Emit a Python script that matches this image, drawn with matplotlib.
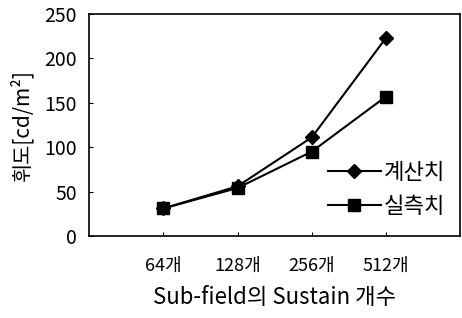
import matplotlib
matplotlib.use("Agg")
import matplotlib.pyplot as plt

plt.rcParams['font.family'] = ['Noto Sans CJK KR', 'DejaVu Sans']

categories = ["64개", "128개", "256개", "512개"]
calculated = [31, 56, 111, 223]
measured = [31, 54, 95, 157]
yticks = [0, 50, 100, 150, 200, 250]

fig = plt.figure(figsize=(4.62, 3.18), dpi=100)
ax = fig.add_axes([0.193, 0.258, 0.803, 0.698])
x = list(range(1, len(categories) + 1))
ax.plot(x, calculated, color='black', lw=1.5, marker='D', ms=7, label='계산치')
ax.plot(x, measured, color='black', lw=1.5, marker='s', ms=9, label='실측치')

ax.set_xlim(0, 5)
ax.set_ylim(0, 250)
ax.set_yticks(yticks)
ax.set_xticks(x)
ax.set_xticklabels(categories)
ax.tick_params(axis='both', direction='in', length=3, width=0.8)
ax.tick_params(axis='y', labelsize=14, pad=9)
ax.tick_params(axis='x', labelsize=13, pad=15)
for s in ax.spines.values():
    s.set_linewidth(1.2)

ax.set_xlabel("Sub-field의 Sustain 개수", fontsize=16, labelpad=8)
ax.set_ylabel("휘도[cd/m²]", fontsize=15, labelpad=8)

leg = ax.legend(loc='lower right', bbox_to_anchor=(0.985, 0.04), frameon=False,
                fontsize=16, handlelength=2.4, handletextpad=0.15,
                labelspacing=0.5, borderaxespad=0.0)

fig.savefig("out.png", dpi=100)
